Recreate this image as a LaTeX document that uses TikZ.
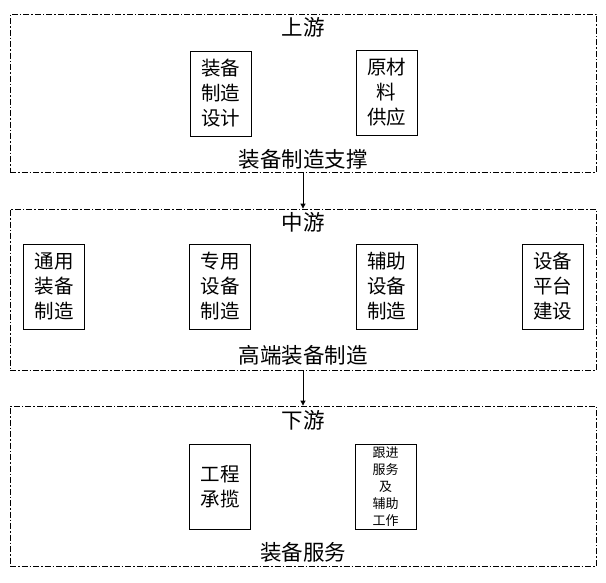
\documentclass[tikz,border=0pt]{standalone}
\usepackage{fontspec}
\setmainfont{Noto Sans CJK SC}
\usetikzlibrary{arrows.meta}
\tikzset{
  stage/.style={draw,line width=0.8pt,dash pattern=on 6pt off 2pt on 1.5pt off 2pt,minimum width=586pt},
  itembox/.style={draw,line width=1pt,minimum width=61pt,minimum height=85pt,align=center,font=\fontsize{19.5}{25}\selectfont,inner sep=0pt},
  smallbox/.style={itembox,font=\fontsize{13}{17}\selectfont},
  title/.style={font=\fontsize{21.5}{24}\selectfont,inner sep=0pt}
}
\begin{document}
\begin{tikzpicture}[x=1pt,y=-1pt]
  \useasboundingbox (0,0) rectangle (606,582);
  %% upstream
  \node[stage,minimum height=158pt] (up) at (303,93) {};
  \node[title] (upT) at (303,27) {上游};
  \node[itembox] (design) at (220.5,93.5) {装备\\制造\\设计};
  \node[itembox] (material) at (386.5,92.5) {原材\\料\\供应};
  \node[title] (upB) at (303,159) {装备制造支撑};
  %% midstream
  \node[stage,minimum height=161pt] (mid) at (303,289.5) {};
  \node[title] (midT) at (303,222) {中游};
  \node[itembox] (general) at (54,286.5) {通用\\装备\\制造};
  \node[itembox] (special) at (220,286.5) {专用\\设备\\制造};
  \node[itembox] (aux) at (386.5,286.5) {辅助\\设备\\制造};
  \node[itembox] (platform) at (552.5,286.5) {设备\\平台\\建设};
  \node[title] (midB) at (303,355) {高端装备制造};
  %% downstream
  \node[stage,minimum height=160pt] (down) at (303,486) {};
  \node[title] (downT) at (303,420) {下游};
  \node[itembox] (project) at (220,486.5) {工程\\承揽};
  \node[smallbox] (service) at (385.5,487) {跟进\\服务\\及\\辅助\\工作};
  \node[title] (downB) at (303,552) {装备服务};
  %% arrows
  \draw[line width=0.8pt,-{Triangle[length=5pt,width=5pt]}] (up) -- (mid);
  \draw[line width=0.8pt,-{Triangle[length=5pt,width=5pt]}] (mid) -- (down);
\end{tikzpicture}
\end{document}
